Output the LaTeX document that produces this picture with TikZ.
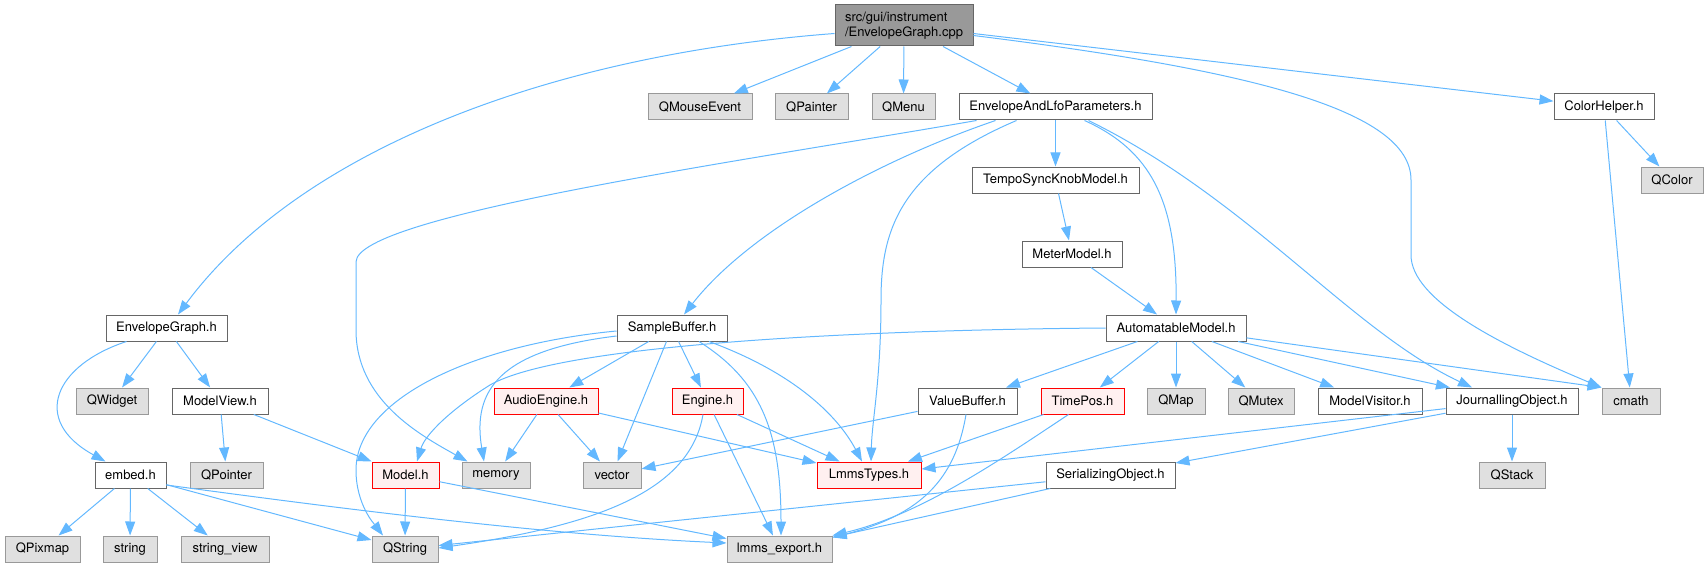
\documentclass[tikz,border=0pt]{standalone}
\usepackage{fontspec}
\setmainfont{TeX Gyre Heros}
\usepackage{xcolor}
\usepackage{tikz}
\usetikzlibrary{arrows.meta}
\definecolor{edgeblue}{HTML}{63B8FF}
\definecolor{rootfill}{HTML}{999999}
\definecolor{rootline}{HTML}{666666}
\definecolor{sysfill}{HTML}{E0E0E0}
\definecolor{sysline}{HTML}{999999}
\definecolor{hdrline}{HTML}{666666}
\definecolor{redfill}{HTML}{FFF0F0}
\definecolor{redline}{HTML}{FF0000}

\tikzset{
  every node/.style={font=\fontsize{13}{15}\selectfont, inner sep=0pt, minimum height=26pt, line width=1pt},
  hdrbox/.style={draw=hdrline, fill=white},
  sysbox/.style={draw=sysline, fill=sysfill},
  redbox/.style={draw=redline, fill=redfill},
  rootbox/.style={draw=rootline, fill=rootfill},
  dep/.style={draw=edgeblue, line width=1pt, -{Triangle[length=14pt,width=10pt]}},
}

\begin{document}
\begin{tikzpicture}[x=1pt, y=-1pt]

  \useasboundingbox (0,0) rectangle (1708,567);

  % Top file
  \node[rootbox, minimum width=138pt, minimum height=41pt, align=left] (root) at (904,25.5)
    {src/gui/instrument\\/EnvelopeGraph.cpp};

  % First row
  \node[sysbox, minimum width=104pt] (qmouse)      at (700,107)    {QMouseEvent};
  \node[sysbox, minimum width=73pt]  (qpainter)    at (811.5,107)  {QPainter};
  \node[sysbox, minimum width=63pt]  (qmenu)       at (903.5,107)  {QMenu};
  \node[hdrbox, minimum width=193pt] (envlfo)      at (1055.5,107) {EnvelopeAndLfoParameters.h};
  \node[hdrbox, minimum width=100pt] (colorhelper) at (1604,107)   {ColorHelper.h};

  \node[hdrbox, minimum width=167pt] (temposync)   at (1055.5,180) {TempoSyncKnobModel.h};
  \node[sysbox, minimum width=62pt]  (qcolor)      at (1672,180)   {QColor};
  \node[hdrbox, minimum width=100pt] (metermodel)  at (1072,254)   {MeterModel.h};

  % Middle row
  \node[hdrbox, minimum width=121pt] (envgraph)    at (166.5,328)  {EnvelopeGraph.h};
  \node[hdrbox, minimum width=110pt] (samplebuf)   at (672,328)    {SampleBuffer.h};
  \node[hdrbox, minimum width=140pt] (automod)     at (1176,328)   {AutomatableModel.h};

  \node[sysbox, minimum width=72pt]  (qwidget)     at (112,401)    {QWidget};
  \node[hdrbox, minimum width=96pt]  (modelview)   at (220,401)    {ModelView.h};
  \node[redbox, minimum width=104pt] (audioeng)    at (546,401)    {AudioEngine.h};
  \node[redbox, minimum width=71pt]  (engine)      at (707.5,401)  {Engine.h};
  \node[hdrbox, minimum width=99pt]  (valuebuf)    at (967.5,401)  {ValueBuffer.h};
  \node[redbox, minimum width=83pt]  (timepos)     at (1082.5,401) {TimePos.h};
  \node[sysbox, minimum width=58pt]  (qmap)        at (1176,401)   {QMap};
  \node[sysbox, minimum width=66pt]  (qmutex)      at (1261,401)   {QMutex};
  \node[hdrbox, minimum width=104pt] (modelvisit)  at (1370,401)   {ModelVisitor.h};
  \node[hdrbox, minimum width=132pt] (journal)     at (1512,401)   {JournallingObject.h};
  \node[sysbox, minimum width=58pt]  (cmath)       at (1631,401)   {cmath};

  % Lower rows
  \node[hdrbox, minimum width=71pt]  (embed)       at (130.5,475)  {embed.h};
  \node[sysbox, minimum width=73pt]  (qpointer)    at (226.5,475)  {QPointer};
  \node[redbox, minimum width=67pt]  (model)       at (405.5,475)  {Model.h};
  \node[sysbox, minimum width=68pt]  (memory)      at (496,475)    {memory};
  \node[sysbox, minimum width=58pt]  (vector)      at (612,475)    {vector};
  \node[redbox, minimum width=104pt] (lmmstypes)   at (869,475)    {LmmsTypes.h};
  \node[hdrbox, minimum width=129pt] (serial)      at (1110.5,475) {SerializingObject.h};
  \node[sysbox, minimum width=66pt]  (qstack)      at (1512,475)   {QStack};

  \node[sysbox, minimum width=75pt]  (qpixmap)     at (42.5,549)   {QPixmap};
  \node[sysbox, minimum width=54pt]  (strg)        at (130,549)    {string};
  \node[sysbox, minimum width=88pt]  (strview)     at (225,549)    {string\_view};
  \node[sysbox, minimum width=66pt]  (qstring)     at (405,549)    {QString};
  \node[sysbox, minimum width=105pt] (lmmsexport)  at (779.5,549)  {lmms\_export.h};

  % Edges from the top file
  \draw[dep] ([yshift=-8pt]root.west) .. controls (550,55) and (300,150) .. ([xshift=11.5pt]envgraph.north);
  \draw[dep] (root) -- (qmouse);
  \draw[dep] (root) -- (qpainter);
  \draw[dep] (root) -- (qmenu);
  \draw[dep] (root) -- (envlfo);
  \draw[dep] (root) -- (colorhelper);
  \draw[dep] ([yshift=-10pt]root.east) .. controls (1250,70) and (1411,110) .. (1411,180)
    -- (1411,255) .. controls (1411,300) and (1500,345) .. (cmath.north west);

  % EnvelopeAndLfoParameters.h
  \draw[dep] ([xshift=18pt]envlfo.south west) .. controls (750,160) and (356,215) .. (356,262)
    -- (356,330) .. controls (356,400) and (420,435) .. ([xshift=6pt]memory.north west);
  \draw[dep] ([xshift=37pt]envlfo.south west) .. controls (880,160) and (750,230) .. ([xshift=12pt]samplebuf.north);
  \draw[dep] ([xshift=58pt]envlfo.south west) .. controls (900,170) and (881,230) .. (881,300)
    .. controls (881,380) and (872,420) .. ([xshift=2pt]lmmstypes.north);
  \draw[dep] (envlfo) -- (temposync);
  \draw[dep] ([xshift=-68pt]envlfo.south east) .. controls (1150,150) and (1177,200) .. (automod.north);
  \draw[dep] ([xshift=-64pt]envlfo.south east) .. controls (1250,200) and (1350,330) .. ([xshift=-40pt]journal.north);

  \draw[dep] (temposync) -- (metermodel);
  \draw[dep] (metermodel) -- (automod);
  \draw[dep] (colorhelper) -- (qcolor);
  \draw[dep] (colorhelper) -- (cmath);

  % EnvelopeGraph.h side
  \draw[dep] (envgraph) -- (qwidget);
  \draw[dep] (envgraph) -- (modelview);
  \draw[dep] ([xshift=-40pt]envgraph.south) .. controls (55,365) and (30,420) .. ([xshift=-25pt]embed.north);
  \draw[dep] (modelview) -- (qpointer);
  \draw[dep] (modelview) -- (model);
  \draw[dep] (embed) -- (qpixmap);
  \draw[dep] (embed) -- (strg);
  \draw[dep] (embed) -- (strview);
  \draw[dep] (embed) -- (qstring);
  \draw[dep] ([yshift=-10pt]embed.east) .. controls (350,510) and (550,535) .. ([yshift=6pt]lmmsexport.west);
  \draw[dep] (model) -- (qstring);
  \draw[dep] (model) -- (lmmsexport);

  % SampleBuffer.h
  \draw[dep] ([yshift=-3pt]samplebuf.west) .. controls (470,345) and (356,400) .. (356,470)
    .. controls (356,505) and (375,525) .. ([xshift=-22pt]qstring.north);
  \draw[dep] ([yshift=-8pt]samplebuf.west) .. controls (500,350) and (472,390) .. ([xshift=-12pt]memory.north);
  \draw[dep] (samplebuf) -- (audioeng);
  \draw[dep] (samplebuf) -- (vector);
  \draw[dep] (samplebuf) -- (engine);
  \draw[dep] ([xshift=27pt]samplebuf.south) .. controls (760,380) and (781,430) .. ([xshift=1.5pt]lmmsexport.north);
  \draw[dep] ([xshift=37pt]samplebuf.south) .. controls (800,375) and (840,420) .. ([xshift=-7pt]lmmstypes.north);

  \draw[dep] (audioeng) -- (memory);
  \draw[dep] (audioeng) -- (vector);
  \draw[dep] (audioeng) -- (lmmstypes);
  \draw[dep] (engine) -- (lmmstypes);
  \draw[dep] (engine) -- (lmmsexport);
  \draw[dep] ([xshift=-4.5pt]engine.south) .. controls (690,490) and (600,525) .. ([yshift=1pt]qstring.east);

  % AutomatableModel.h
  \draw[dep] (automod.west) .. controls (850,330) and (560,345) .. (490,385)
    .. controls (450,410) and (425,435) .. ([xshift=11.5pt]model.north);
  \draw[dep] (automod) -- (valuebuf);
  \draw[dep] (automod) -- (timepos);
  \draw[dep] (automod) -- (qmap);
  \draw[dep] (automod) -- (qmutex);
  \draw[dep] (automod) -- (modelvisit);
  \draw[dep] (automod) -- (journal);
  \draw[dep] (automod) -- (cmath.north west);

  \draw[dep] (valuebuf) -- (vector);
  \draw[dep] ([xshift=-1.5pt]valuebuf.south) .. controls (955,480) and (920,515) .. ([yshift=-2pt]lmmsexport.north east);
  \draw[dep] (timepos) -- (lmmstypes);
  \draw[dep] ([xshift=-14pt]timepos.south) .. controls (1000,460) and (920,515) .. (lmmsexport.north east);

  % JournallingObject.h
  \draw[dep] (journal) -- (lmmstypes);
  \draw[dep] (journal) -- (serial);
  \draw[dep] (journal) -- (qstack);
  \draw[dep] (serial) -- (qstring);
  \draw[dep] (serial) -- (lmmsexport);

\end{tikzpicture}
\end{document}
